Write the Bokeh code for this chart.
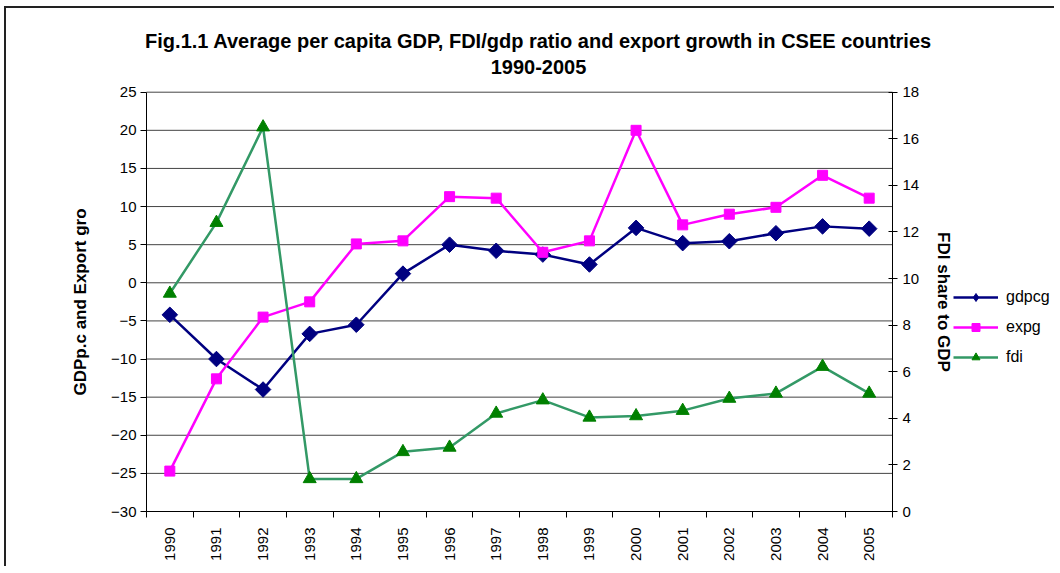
import numpy as np
from bokeh.plotting import figure
from bokeh.models import (Range1d, LinearAxis, FixedTicker, Legend, LegendItem, Label)
from bokeh.embed import file_html
from bokeh.resources import INLINE

years = ["1990", "1991", "1992", "1993", "1994", "1995", "1996", "1997",
         "1998", "1999", "2000", "2001", "2002", "2003", "2004", "2005"]
gdpcg = [-4.2, -10.0, -14.0, -6.7, -5.5, 1.2, 5.0, 4.2, 3.7, 2.4, 7.2, 5.2, 5.45, 6.5, 7.4, 7.1]
expg = [-24.7, -12.6, -4.5, -2.5, 5.1, 5.5, 11.3, 11.1, 4.0, 5.5, 20.0, 7.6, 9.0, 9.9, 14.1, 11.1]
fdi = [9.36, 12.4, 16.5, 1.4, 1.4, 2.56, 2.75, 4.21, 4.78, 4.04, 4.1, 4.33, 4.85, 5.07, 6.22, 5.07]
title_line1 = "Fig.1.1 Average per capita GDP, FDI/gdp ratio and export growth in CSEE countries"
title_line2 = "1990-2005"
left_ticks = [-30, -25, -20, -15, -10, -5, 0, 5, 10, 15, 20, 25]
right_ticks = [0, 2, 4, 6, 8, 10, 12, 14, 16, 18]

FONT = "Liberation Sans"
n = len(years)
xc = [i + 0.5 for i in range(n)]

# ---- layout geometry (page pixels) ----
OFF_X, OFF_Y = 6, 8            # canvas origin on the page (margin + border)
W, H = 1050, 560
FRAME_L, FRAME_R = OFF_X, OFF_X + W
FRAME_T, FRAME_B = OFF_Y, OFF_Y + H
PLOT_L, PLOT_R = 146, 892      # chart area (axes) in page pixels
PLOT_T, PLOT_B = 91.7, 511

lo, hi = left_ticks[0], left_ticks[-1]
r_lo, r_hi = right_ticks[0], right_ticks[-1]
kx = n / (PLOT_R - PLOT_L)
ky = (hi - lo) / (PLOT_B - PLOT_T)
kr = (r_hi - r_lo) / (PLOT_B - PLOT_T)
x_range = Range1d(-(PLOT_L - FRAME_L) * kx, n + (FRAME_R - PLOT_R) * kx)
y_range = Range1d(lo - (FRAME_B - PLOT_B) * ky, hi + (PLOT_T - FRAME_T) * ky)
r_range = Range1d(r_lo - (FRAME_B - PLOT_B) * kr, r_hi + (PLOT_T - FRAME_T) * kr)

p = figure(width=W, height=H, output_backend="svg", toolbar_location=None,
           x_range=x_range, y_range=y_range,
           min_border_left=0, min_border_right=0, min_border_top=0, min_border_bottom=0)
p.extra_y_ranges = {"fdi": r_range}
p.outline_line_color = None
p.background_fill_color = "white"
p.border_fill_color = "white"

# x axis pinned at the bottom of the value span
xa = p.xaxis[0]
xa.fixed_location = lo
xa.bounds = (0, n)
xa.ticker = FixedTicker(ticks=xc, minor_ticks=list(range(n + 1)))
xa.major_label_overrides = {x: y for x, y in zip(xc, years)}
xa.major_tick_line_color = None
xa.major_tick_out = 0
xa.major_tick_in = 0
xa.minor_tick_out = 6
xa.minor_tick_in = 0
xa.minor_tick_line_color = "black"
xa.axis_line_color = "black"
xa.major_label_orientation = np.pi / 2
xa.major_label_standoff = 10
xa.major_label_text_font = FONT
xa.major_label_text_font_size = "15px"
xa.major_label_text_color = "black"

# left axis pinned at the start of the category span
ya = p.yaxis[0]
ya.fixed_location = 0
ya.bounds = (lo, hi)
ya.ticker = FixedTicker(ticks=left_ticks)
ya.major_tick_out = 6
ya.major_tick_in = 0
ya.minor_tick_line_color = None
ya.axis_line_color = "black"
ya.major_tick_line_color = "black"
ya.major_label_text_font = FONT
ya.major_label_text_font_size = "15px"
ya.major_label_text_color = "black"
ya.major_label_standoff = 4
ya.axis_label = "GDPp.c and Export gro"
ya.axis_label_text_font = FONT
ya.axis_label_text_font_size = "17px"
ya.axis_label_text_font_style = "bold"
ya.axis_label_text_color = "black"
ya.axis_label_standoff = 18

# right axis pinned at the end of the category span
ra = LinearAxis(y_range_name="fdi", ticker=FixedTicker(ticks=right_ticks),
                fixed_location=n, bounds=(r_lo, r_hi))
ra.major_tick_out = 5
ra.major_tick_in = 4
ra.minor_tick_line_color = None
ra.axis_line_color = "black"
ra.major_tick_line_color = "black"
ra.major_label_text_font = FONT
ra.major_label_text_font_size = "15px"
ra.major_label_text_color = "black"
ra.major_label_standoff = 5
ra.axis_label = "FDI share to GDP"
ra.axis_label_text_font = FONT
ra.axis_label_text_font_size = "17px"
ra.axis_label_text_font_style = "bold"
ra.axis_label_text_color = "black"
ra.axis_label_standoff = 12
p.add_layout(ra, "right")

# horizontal gridlines at the left-axis ticks, only across the category span
p.xgrid.grid_line_color = None
p.ygrid.grid_line_color = None
p.segment(x0=[0] * len(left_ticks), x1=[n] * len(left_ticks), y0=left_ticks, y1=left_ticks,
          line_color="#444444", line_width=1)

# series
l1 = p.line(xc, gdpcg, line_color="#000080", line_width=2.5)
m1 = p.scatter(xc, gdpcg, marker="square", angle=np.pi / 4, size=11,
               fill_color="#000080", line_color="#000080")
l2 = p.line(xc, expg, line_color="#FF00FF", line_width=2.5)
m2 = p.scatter(xc, expg, marker="square", size=10,
               fill_color="#FF00FF", line_color="#FF00FF")
l3 = p.line(xc, fdi, line_color="#339966", line_width=2.5, y_range_name="fdi")
m3 = p.scatter(xc, fdi, marker="triangle", size=13,
               fill_color="#008000", line_color="#008000", y_range_name="fdi")
# legend-only diamond swatch (a single undrawn NaN point)
d1 = p.scatter(x=[np.nan], y=[np.nan], marker="diamond", size=15,
               fill_color="#000080", line_color="#000080")

legend = Legend(items=[LegendItem(label="gdpcg", renderers=[l1, d1]),
                       LegendItem(label="expg", renderers=[l2, m2]),
                       LegendItem(label="fdi", renderers=[l3, m3])],
                location=(953 - FRAME_L, FRAME_B - 367), orientation="vertical",
                glyph_width=45, glyph_height=20, label_height=20, spacing=10,
                padding=4, label_standoff=8, border_line_color=None,
                background_fill_alpha=0, label_text_font=FONT,
                label_text_font_size="16px", label_text_color="black")
p.add_layout(legend, "center")

# title
for txt, ypx in [(title_line1, 40), (title_line2, 66)]:
    p.add_layout(Label(x=538 - FRAME_L, y=FRAME_B - ypx, x_units="screen", y_units="screen",
                       text=txt, text_align="center", text_baseline="middle",
                       text_font=FONT, text_font_size="20px", text_font_style="bold",
                       text_color="black"))

p.styles = {"border-top": "2px solid #222222", "border-left": "2px solid #222222",
            "margin-left": "4px", "margin-top": "6px"}

open("out.html", "w").write(file_html(p, INLINE))
